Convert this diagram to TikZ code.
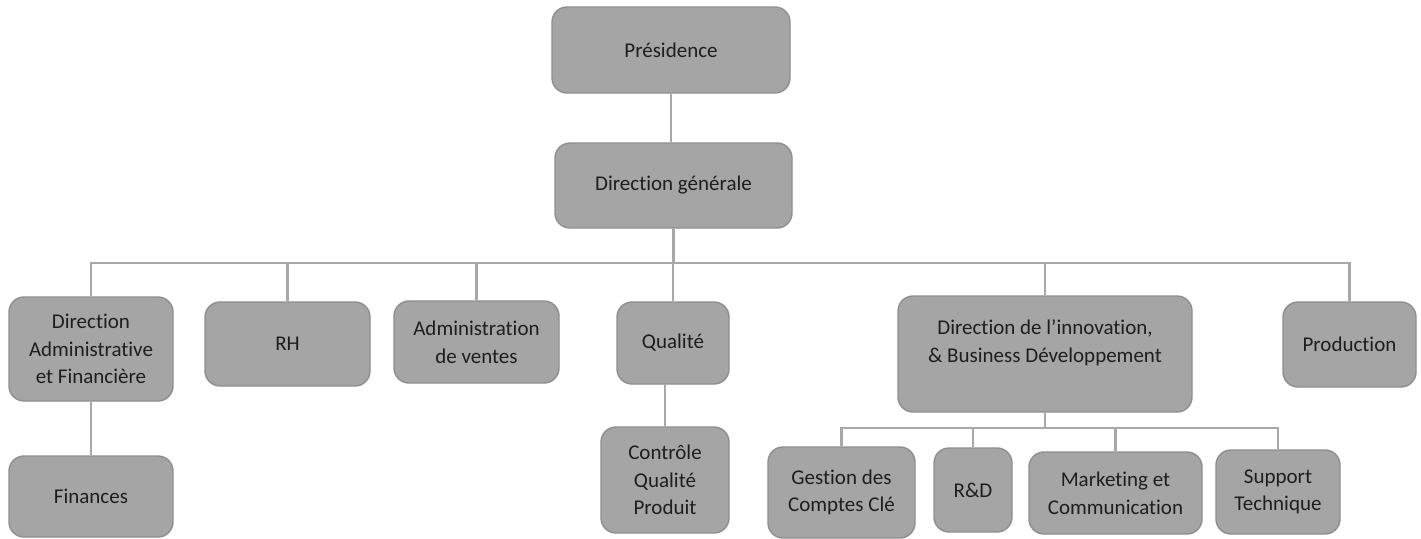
\documentclass[tikz,border=0pt]{standalone}
\usepackage{fontspec}
\setmainfont{Carlito}[Ligatures=NoCommon]
\usepackage{tikz}

\definecolor{boxgray}{HTML}{A5A5A5}
\definecolor{edgegray}{HTML}{8E8E8E}
\definecolor{linkgray}{HTML}{A8A8A8}
\definecolor{txtgray}{HTML}{1E1E1E}

\begin{document}
\begin{tikzpicture}[x=0.5pt, y=-0.5pt,
  unit/.style={draw=edgegray, line width=0.7pt, fill=boxgray, rounded corners=7.5pt,
    text=txtgray, align=center, inner sep=0pt,
    font=\fontsize{10.5}{13.8}\selectfont},
  link/.style={draw=linkgray, line width=1.2pt}]
\useasboundingbox (0,0) rectangle (1421,538);

% top
\node (pres) [unit, minimum width=119pt, minimum height=43pt] at (671,50) {Présidence};
\node (dg) [unit, minimum width=118.5pt, minimum height=42.5pt] at (673.5,185.5) {Direction générale};

% directions
\node (daf) [unit, minimum width=82pt, minimum height=52pt] at (91,349) {Direction\\Administrative\\et Financière};
\node (rh) [unit, minimum width=82.5pt, minimum height=42pt] at (287.5,344) {RH};
\node (adv) [unit, minimum width=82.5pt, minimum height=41pt] at (476.5,342) {Administration\\de ventes};
\node (qual) [unit, minimum width=56pt, minimum height=41pt] at (673,343) {Qualité};
\node (dibd) [unit, minimum width=147pt, minimum height=58pt, text depth=13pt] at (1045,354) {Direction de l’innovation,\\\& Business Développement};
\node (pro) [unit, minimum width=66.5pt, minimum height=42.5pt] at (1349.5,344.5) {Production};

% services
\node (fin) [unit, minimum width=82pt, minimum height=40.5pt] at (91,496.5) {Finances};
\node (cqp) [unit, minimum width=64pt, minimum height=53pt] at (665,480) {Contrôle\\Qualité\\Produit};
\node (gcc) [unit, minimum width=73.5pt, minimum height=45.5pt] at (841.5,492.5) {Gestion des\\Comptes Clé};
\node (rd) [unit, minimum width=39pt, minimum height=42pt] at (973,490) {R\&D};
\node (mkt) [unit, minimum width=86.5pt, minimum height=41pt] at (1115.5,493) {Marketing et\\Communication};
\node (sup) [unit, minimum width=62pt, minimum height=42pt] at (1278,492) {Support\\Technique};

\coordinate (bus) at (0,263);
\coordinate (sbus) at (0,428);

\draw[link] (pres.south) -- (pres.south |- dg.north);
\draw[link] (dg.south) -- (dg.south |- bus);
\foreach \n in {daf,rh,adv,qual,dibd,pro}
  \draw[link] (\n.north) |- (dg.south |- bus);
\draw[link] (daf.south) -- (fin.north);
\draw[link] (cqp.north) -- (cqp.north |- qual.south);
\draw[link] (dibd.south) -- (dibd.south |- sbus);
\foreach \n in {gcc,rd,mkt,sup}
  \draw[link] (\n.north) |- (dibd.south |- sbus);
\end{tikzpicture}
\end{document}
